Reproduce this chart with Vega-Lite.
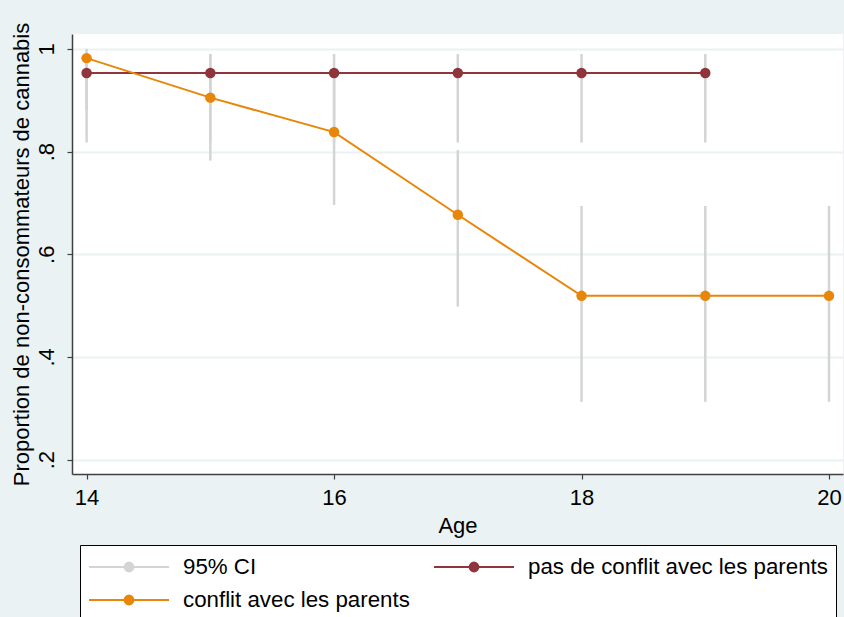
{
  "$schema": "https://vega.github.io/schema/vega-lite/v6.json",
  "width": 771,
  "height": 440,
  "autosize": {"type": "none"},
  "padding": {"left": 72, "top": 34, "right": 1, "bottom": 143},
  "background": "#EAF2F3",
  "config": {
    "view": {"fill": "white", "stroke": null},
    "font": "Liberation Sans",
    "axis": {
      "labelFont": "Liberation Sans",
      "titleFont": "Liberation Sans",
      "labelFontSize": 22,
      "titleFontSize": 22,
      "labelColor": "black",
      "titleColor": "black",
      "titleFontWeight": "normal",
      "domainColor": "#404040",
      "tickColor": "#404040",
      "tickSize": 5,
      "domainWidth": 1.5,
      "tickWidth": 1.2
    },
    "legend": {
      "labelFont": "Liberation Sans",
      "labelFontSize": 22.3,
      "labelColor": "black"
    }
  },
  "data": {
    "values": [
      {"age": 14, "series": "pas de conflit avec les parents", "p": 0.953, "lo": 0.8175, "hi": 0.99},
      {"age": 15, "series": "pas de conflit avec les parents", "p": 0.953, "lo": 0.8175, "hi": 0.99},
      {"age": 16, "series": "pas de conflit avec les parents", "p": 0.953, "lo": 0.8175, "hi": 0.99},
      {"age": 17, "series": "pas de conflit avec les parents", "p": 0.953, "lo": 0.8175, "hi": 0.99},
      {"age": 18, "series": "pas de conflit avec les parents", "p": 0.953, "lo": 0.8175, "hi": 0.99},
      {"age": 19, "series": "pas de conflit avec les parents", "p": 0.953, "lo": 0.8175, "hi": 0.99},
      {"age": 14, "series": "conflit avec les parents", "p": 0.982, "lo": 0.88, "hi": 1.0},
      {"age": 15, "series": "conflit avec les parents", "p": 0.905, "lo": 0.7825, "hi": 0.99},
      {"age": 16, "series": "conflit avec les parents", "p": 0.838, "lo": 0.696, "hi": 0.95},
      {"age": 17, "series": "conflit avec les parents", "p": 0.677, "lo": 0.498, "hi": 0.803},
      {"age": 18, "series": "conflit avec les parents", "p": 0.519, "lo": 0.3125, "hi": 0.694},
      {"age": 19, "series": "conflit avec les parents", "p": 0.519, "lo": 0.3125, "hi": 0.694},
      {"age": 20, "series": "conflit avec les parents", "p": 0.519, "lo": 0.3125, "hi": 0.694}
    ]
  },
  "encoding": {
    "x": {
      "field": "age",
      "type": "quantitative",
      "title": "Age",
      "scale": {"domain": [13.882, 20.113], "nice": false, "zero": false},
      "axis": {"values": [14, 16, 18, 20], "grid": false, "labelPadding": 8, "titlePadding": 7}
    }
  },
  "layer": [
    {
      "mark": {"type": "rule", "strokeWidth": 2.5},
      "encoding": {
        "y": {
          "field": "lo",
          "type": "quantitative",
          "title": "Proportion de non-consommateurs de cannabis",
          "scale": {"domain": [0.172, 1.029], "nice": false, "zero": false},
          "axis": {
            "values": [0.2, 0.4, 0.6, 0.8, 1],
            "labelExpr": "datum.value == 1 ? '1' : replace(format(datum.value, '.1f'), '0.', '.')",
            "labelAngle": -90,
            "labelAlign": "center",
            "labelBaseline": "bottom",
            "labelPadding": 9,
            "titlePadding": 2,
            "grid": true,
            "gridColor": "#EAF2F3",
            "gridWidth": 2
          }
        },
        "y2": {"field": "hi"},
        "color": {"datum": "95% CI"}
      }
    },
    {
      "mark": {"type": "line", "strokeWidth": 2},
      "encoding": {
        "y": {"field": "p", "type": "quantitative"},
        "color": {"field": "series", "type": "nominal"}
      }
    },
    {
      "mark": {"type": "point", "filled": true, "size": 110, "opacity": 1},
      "encoding": {
        "y": {"field": "p", "type": "quantitative"},
        "color": {
          "field": "series",
          "type": "nominal",
          "scale": {
            "domain": ["95% CI", "pas de conflit avec les parents", "conflit avec les parents"],
            "range": ["#D4D4D4", "#90353B", "#E8860A"]
          },
          "legend": {
            "title": null,
            "orient": "none",
            "legendX": 8,
            "legendY": 511,
            "direction": "horizontal",
            "columns": 2,
            "padding": 8,
            "strokeColor": "black",
            "fillColor": "white",
            "columnPadding": 23,
            "rowPadding": 5,
            "clipHeight": 28,
            "labelLimit": 500,
            "labelOffset": 13,
            "symbolSize": 6400,
            "symbolStrokeWidth": 2,
            "symbolType": "M-1,0H1H0.11A0.11,0.11 0 1 1 -0.11,0A0.11,0.11 0 1 1 0.11,0",
            "encode": {
              "symbols": {
                "update": {
                  "size": {"value": 6400},
                  "strokeWidth": {"value": 2},
                  "opacity": {"value": 1}
                }
              }
            }
          }
        }
      }
    }
  ]
}
